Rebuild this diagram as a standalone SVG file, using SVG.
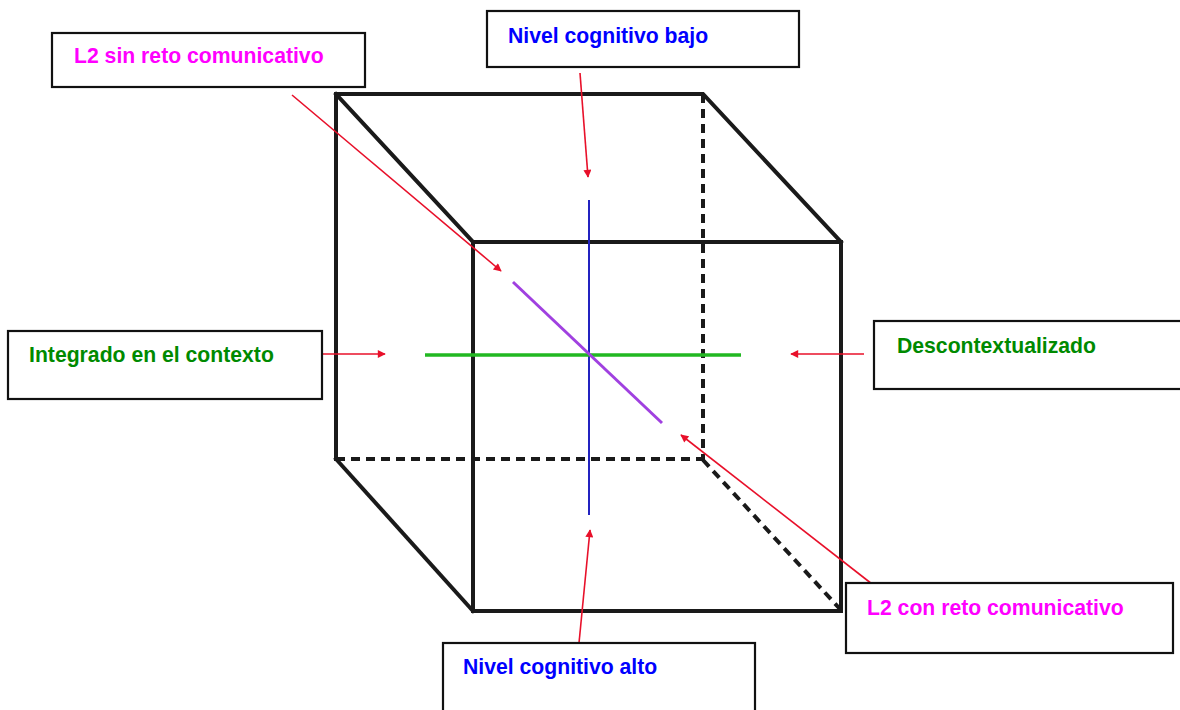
<svg xmlns="http://www.w3.org/2000/svg" width="1180" height="710" viewBox="0 0 1180 710">
<style>
.box{fill:#fff;stroke:#111;stroke-width:2.2}
.lbl{font-family:"Liberation Sans",Arial,sans-serif;font-weight:bold;font-size:21.2px}
.cube{stroke:#1a1a1a;stroke-width:4;fill:none;stroke-linecap:square}
.dash{stroke:#1a1a1a;stroke-width:4;fill:none;stroke-dasharray:9 6}
.arr{stroke:#e8102a;stroke-width:1.6;fill:none;marker-end:url(#ah)}
</style>
<defs>
<marker id="ah" viewBox="0 0 10 10" refX="9" refY="5" markerWidth="12" markerHeight="8" markerUnits="userSpaceOnUse" orient="auto">
<path d="M0,0 L10,5 L0,10 z" fill="#e8102a"/>
</marker>
</defs>
<rect width="1180" height="710" fill="#fff"/>
<g id="cube">
<line class="dash" x1="703" y1="94" x2="703" y2="460"/>
<line class="dash" x1="336" y1="459" x2="703" y2="459"/>
<line class="dash" x1="703" y1="460" x2="840" y2="609"/>
<polyline class="cube" points="336,459 336,94 703,94 841,242"/>
<line class="cube" x1="336" y1="94" x2="473" y2="242"/>
<line class="cube" x1="336" y1="459" x2="473" y2="611"/>
<rect class="cube" x="473" y="242" width="368" height="369"/>
</g>
<g id="axes">
<line x1="589" y1="200" x2="589" y2="515" stroke="#2323c0" stroke-width="2"/>
<line x1="425" y1="355" x2="741" y2="355" stroke="#22b822" stroke-width="3.5"/>
<line x1="513" y1="282" x2="662" y2="423" stroke="#a040e0" stroke-width="3"/>
</g>
<g id="connectors">
<line class="arr" x1="292" y1="95" x2="501" y2="271"/>
<line class="arr" x1="580" y1="73" x2="588" y2="177"/>
<line class="arr" x1="322" y1="354" x2="385" y2="354"/>
<line class="arr" x1="864" y1="354" x2="791" y2="354"/>
<line class="arr" x1="872" y1="584" x2="681" y2="435"/>
<line class="arr" x1="579" y1="643" x2="590" y2="530"/>
</g>
<g id="n-l2sin">
<rect class="box" x="52" y="33" width="313" height="54"/>
<text class="lbl" x="74" y="63" fill="#ff00ff">L2 sin reto comunicativo</text>
</g>
<g id="n-bajo">
<rect class="box" x="487" y="11" width="312" height="56"/>
<text class="lbl" x="508" y="43" fill="#0000ff">Nivel cognitivo bajo</text>
</g>
<g id="n-integrado">
<rect class="box" x="8" y="331" width="314" height="68"/>
<text class="lbl" x="29" y="362" fill="#008a00">Integrado en el contexto</text>
</g>
<g id="n-descontext">
<rect class="box" x="874" y="321" width="310" height="68"/>
<text class="lbl" x="897" y="353" fill="#008a00">Descontextualizado</text>
</g>
<g id="n-l2con">
<rect class="box" x="846" y="583" width="327" height="70"/>
<text class="lbl" x="867" y="615" fill="#ff00ff">L2 con reto comunicativo</text>
</g>
<g id="n-alto">
<rect class="box" x="443" y="643" width="312" height="70"/>
<text class="lbl" x="463" y="674" fill="#0000ff">Nivel cognitivo alto</text>
</g>
</svg>
